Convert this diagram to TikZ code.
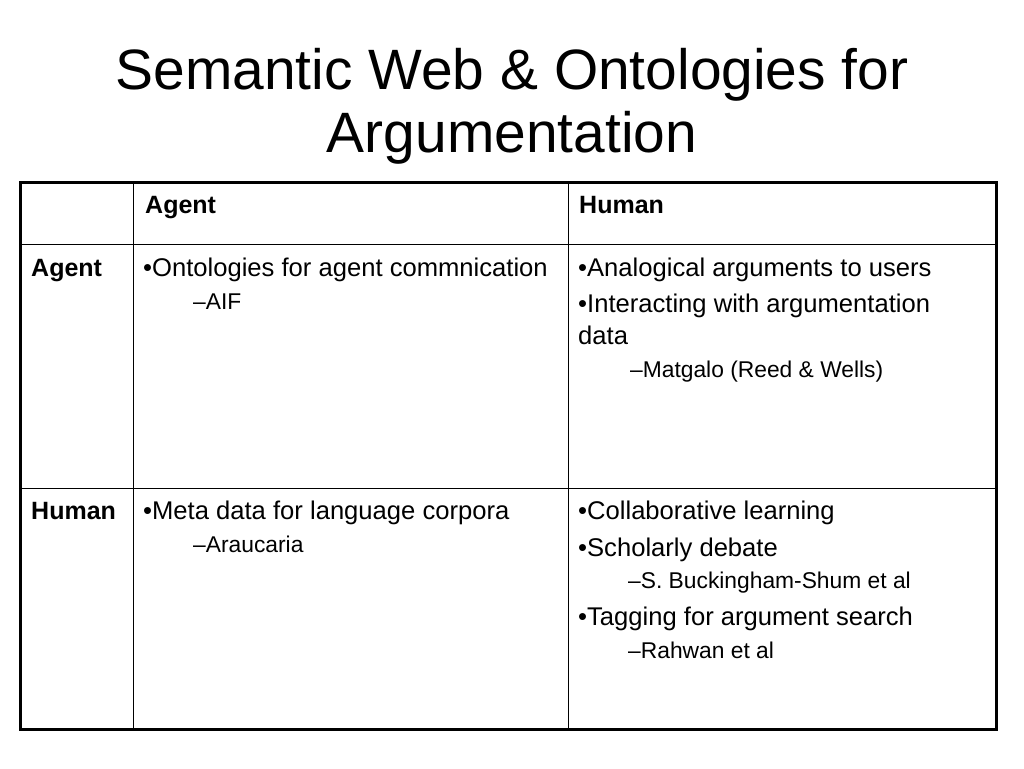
\documentclass[tikz,border=0pt]{standalone}
\usepackage{fontspec}
\setmainfont{Liberation Sans}
\begin{document}
\begin{tikzpicture}[x=1pt,y=-1pt,
  txt/.style={anchor=base west,inner sep=0pt,font=\fontsize{25.6}{30}\selectfont},
  hdr/.style={anchor=base west,inner sep=0pt,font=\fontsize{25}{30}\selectfont\bfseries},
  sub/.style={anchor=base west,inner sep=0pt,font=\fontsize{22.8}{27}\selectfont},
  ttl/.style={anchor=base,inner sep=0pt,font=\fontsize{56.9}{66}\selectfont}]
\useasboundingbox (0,0) rectangle (1024,768);
\fill[white] (0,0) rectangle (1024,768);
% title
\node[ttl] (t1) at (512,89) {Semantic Web \& Ontologies for};
\node[ttl] (t2) at (512,152) {Argumentation};
% grid
\draw[line width=1pt] (133,182) -- (133,729);
\draw[line width=1pt] (568,182) -- (568,729);
\draw[line width=1pt] (20,244) -- (996,244);
\draw[line width=1pt] (20,488) -- (996,488);
\draw[line width=3pt] (20,182) rectangle (996,729);
% headers
\node[hdr] (h1) at (145,213) {Agent};
\node[hdr] (h2) at (579,213) {Human};
\node[hdr] (r1) at (31,276) {Agent};
\node[hdr] (r2) at (31,519) {Human};
% row agent
\node[txt] (a1) at (143,276) {•Ontologies for agent commnication};
\node[sub] (a1s) at (193,309) {–AIF};
\node[txt] (b1) at (578,276) {•Analogical arguments to users};
\node[txt] (b2) at (578,312) {•Interacting with argumentation};
\node[txt] (b2b) at (578,344) {data};
\node[sub] (b2s) at (630,377) {–Matgalo (Reed \& Wells)};
% row human
\node[txt] (c1) at (143,519) {•Meta data for language corpora};
\node[sub] (c1s) at (193,552) {–Araucaria};
\node[txt] (d1) at (578,519) {•Collaborative learning};
\node[txt] (d2) at (578,556) {•Scholarly debate};
\node[sub] (d2s) at (628,588) {–S. Buckingham-Shum et al};
\node[txt] (d3) at (578,625) {•Tagging for argument search};
\node[sub] (d3s) at (628,658) {–Rahwan et al};
\end{tikzpicture}
\end{document}
